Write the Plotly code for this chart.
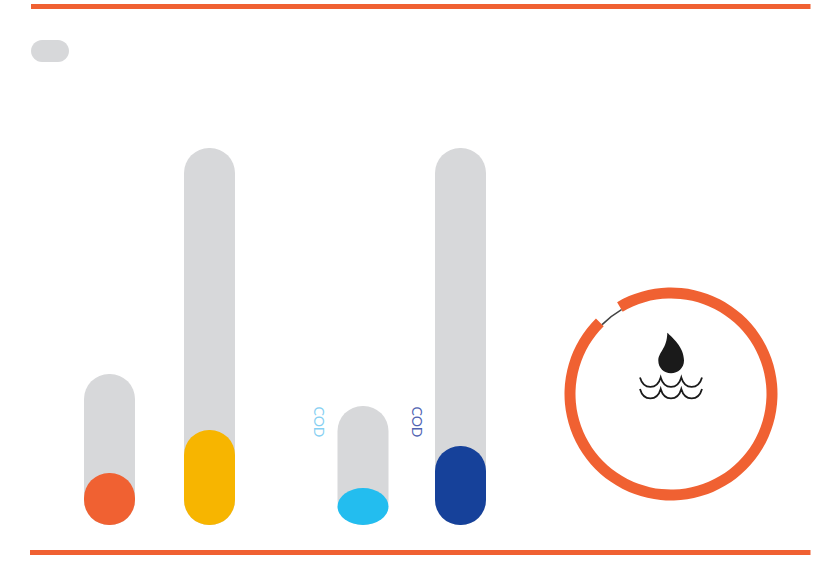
import plotly.graph_objects as go

# --- data -----------------------------------------------------------------
categories = ["A", "B", "C", "D"]
track_values = [151, 377, 119, 377]
fill_values = [52, 95, 37, 79]
fill_colors = ["#F06132", "#F7B500", "#23BDEF", "#16419A"]
bar_centres = [109.5, 209.5, 363, 460.5]
ring_values = [96, 4]
axis_labels = ["COD", "COD"]
axis_label_colors = ["#86CFF2", "#4F63B2"]

# --- style ----------------------------------------------------------------
W, H = 827, 561
ORANGE = "#F06132"
GREY = "#D7D8DA"
INK = "#1A1A1A"
BAR_W = 51
BASE_PX = 525          # pixel row of the bars' zero line


def px_y(y):
    """Map a pixel row onto the y axis' value scale."""
    return BASE_PX - y


fig = go.Figure()


def capsule(xs, values, colors):
    """A bar rounded at both ends (an explicit base makes plotly round all four corners)."""
    fig.add_trace(go.Bar(
        x=xs, y=values, base=[0] * len(values), width=BAR_W,
        marker=dict(color=colors, cornerradius=BAR_W / 2, line_width=0),
        hoverinfo="skip", showlegend=False,
    ))


capsule(bar_centres, track_values, [GREY] * len(track_values))

# coloured fills (the third is too short for a capsule: it is drawn as an ellipse below)
solid = [0, 1, 3]
capsule([bar_centres[i] for i in solid],
        [fill_values[i] for i in solid],
        [fill_colors[i] for i in solid])

# gauge ring
cx, cy = 671, 394


def dom(r):
    return dict(x=[(cx - r) / W, (cx + r) / W], y=[1 - (cy + r) / H, 1 - (cy - r) / H])


ROT = -30.4
fig.add_trace(go.Pie(
    values=ring_values, sort=False, direction="clockwise", rotation=ROT,
    hole=95.5 / 106.5, domain=dom(106.5), textinfo="none", hoverinfo="skip",
    marker=dict(colors=[ORANGE, "rgba(0,0,0,0)"], line_width=0), showlegend=False,
))
fig.add_trace(go.Pie(
    values=ring_values, sort=False, direction="clockwise", rotation=ROT,
    hole=97.0 / 98.6, domain=dom(98.6), textinfo="none", hoverinfo="skip",
    marker=dict(colors=["rgba(0,0,0,0)", "#444444"], line_width=0), showlegend=False,
))

shapes = []
# cyan ellipse, from its value
shapes.append(dict(
    type="circle", xref="x", yref="y",
    x0=bar_centres[2] - BAR_W / 2, x1=bar_centres[2] + BAR_W / 2,
    y0=0, y1=fill_values[2], fillcolor=fill_colors[2], line_width=0,
))
# rules
shapes.append(dict(type="rect", xref="x", yref="y", x0=31, x1=810.5,
                   y0=px_y(4), y1=px_y(9), fillcolor=ORANGE, line_width=0))
shapes.append(dict(type="rect", xref="x", yref="y", x0=30, x1=810.5,
                   y0=px_y(550), y1=px_y(555), fillcolor=ORANGE, line_width=0))
# grey pill, top left
x0, x1, t, b = 31, 69, 40, 62
r = (b - t) / 2
shapes.append(dict(
    type="path", xref="x", yref="y", fillcolor=GREY, line_width=0,
    path=(f"M{x0 + r},{px_y(t)} L{x1 - r},{px_y(t)} "
          f"C{x1 - r + 6},{px_y(t)} {x1},{px_y(t + 5)} {x1},{px_y(t + r)} "
          f"C{x1},{px_y(b - 5)} {x1 - r + 6},{px_y(b)} {x1 - r},{px_y(b)} "
          f"L{x0 + r},{px_y(b)} "
          f"C{x0 + r - 6},{px_y(b)} {x0},{px_y(b - 5)} {x0},{px_y(t + r)} "
          f"C{x0},{px_y(t + 5)} {x0 + r - 6},{px_y(t)} {x0 + r},{px_y(t)} Z"),
))
# drop icon
shapes.append(dict(
    type="path", xref="x", yref="y", fillcolor=INK, line_width=0,
    path=(f"M667.3,{px_y(332.7)} "
          f"C672,{px_y(337)} 684,{px_y(347)} 684,{px_y(360.5)} "
          f"C684,{px_y(368)} 678,{px_y(373.3)} 671,{px_y(373.3)} "
          f"C664,{px_y(373.3)} 658.3,{px_y(368)} 658.3,{px_y(360.5)} "
          f"C658.3,{px_y(352)} 667,{px_y(349)} 667.3,{px_y(332.7)} Z"),
))
# waves
cusps = [640, 660.7, 681.3, 702]
for top in (377.5, 389):
    d = f"M{cusps[0]},{px_y(top)}"
    for a, c in zip(cusps[:-1], cusps[1:]):
        d += f" C{a + 3.5},{px_y(top + 12.5)} {c - 3.5},{px_y(top + 12.5)} {c},{px_y(top)}"
    shapes.append(dict(type="path", xref="x", yref="y", path=d,
                       line=dict(color=INK, width=1.8)))

annotations = [
    dict(x=x, y=px_y(422), xref="x", yref="y", text=t, textangle=90, showarrow=False,
         font=dict(family="Lato", size=14, color=c))
    for x, t, c in zip([319.5, 417.5], axis_labels, axis_label_colors)
]

fig.update_layout(
    width=W, height=H, autosize=False,
    margin=dict(l=0, r=0, t=0, b=0),
    paper_bgcolor="white", plot_bgcolor="white",
    barmode="overlay",
    xaxis=dict(range=[0, W], visible=False, fixedrange=True),
    yaxis=dict(range=[px_y(H), px_y(0)], visible=False, fixedrange=True),
    shapes=shapes, annotations=annotations,
)

fig.write_html("out.html", config=dict(displayModeBar=False),
               post_script="document.body.style.margin='0';document.body.style.overflow='hidden';")
